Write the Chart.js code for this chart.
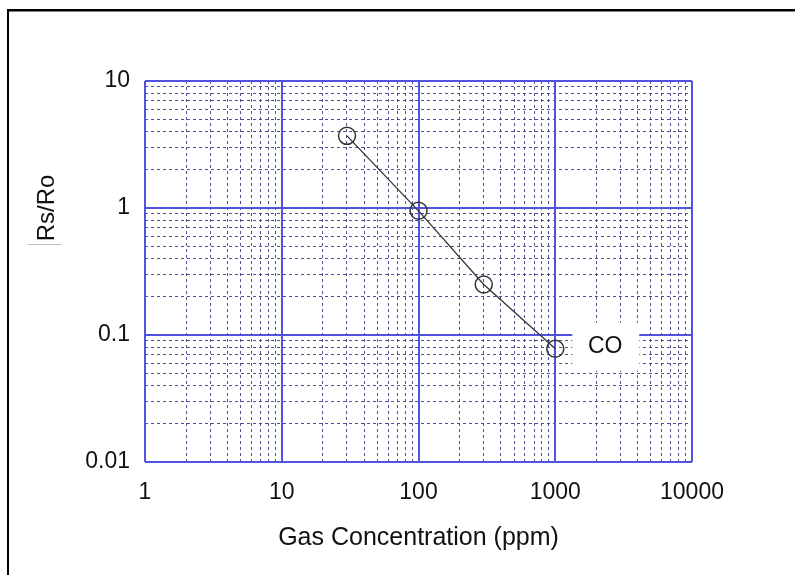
<!DOCTYPE html>
<html>
<head>
<meta charset="utf-8">
<script src="https://cdn.jsdelivr.net/npm/chart.js@4.4.1/dist/chart.umd.min.js"></script>
<style>
  html, body { margin: 0; padding: 0; background: #fff; }
  #wrap { width: 795px; height: 575px; }
</style>
</head>
<body>
<div id="wrap"><canvas id="chart1" width="795" height="575"></canvas></div>
<script>
// CO sensitivity curve (log-log)
const gasPpm = [30, 100, 300, 1000];
const rsRo = [3.7, 0.95, 0.25, 0.078];
const seriesName = 'CO';

const xTicks = [1, 10, 100, 1000, 10000];
const xTickLabels = ['1', '10', '100', '1000', '10000'];
const yTicks = [0.01, 0.1, 1, 10];
const yTickLabels = ['0.01', '0.1', '1', '10'];

// minor grid: 2..9 in every decade
function minorTicks(decades) {
    const out = [];
    decades.forEach(d => {
        for (let m = 2; m <= 9; m++) out.push(+(d * m).toPrecision(3));
    });
    return out;
}
const xMinor = minorTicks([1, 10, 100, 1000]);
const yMinor = minorTicks([0.01, 0.1, 1]);

const font = 'Liberation Sans, Arial, Helvetica, sans-serif';
const textColor = '#111';
const majorBlue = 'rgb(82, 82, 225)';
const minorBlue = 'rgba(50, 50, 125, 0.85)';

// frame, y title and the CO tag
const extras = {
    id: 'extras',
    beforeDatasetsDraw(chart) {
        const ctx = chart.ctx;
        const px = chart.scales.x.getPixelForValue(gasPpm[gasPpm.length - 1]);
        const py = chart.scales.y.getPixelForValue(rsRo[rsRo.length - 1]);
        ctx.save();
        ctx.fillStyle = '#fff';
        ctx.fillRect(px + 17, py - 26, 67, 48);
        ctx.fillStyle = textColor;
        ctx.font = '23px ' + font;
        ctx.textAlign = 'center';
        ctx.textBaseline = 'middle';
        ctx.fillText(seriesName, px + 50, py - 2);
        ctx.restore();
    },
    afterDraw(chart) {
        const ctx = chart.ctx;
        ctx.save();
        ctx.fillStyle = '#000';
        ctx.fillRect(7, 9, 788, 2.5);
        ctx.fillRect(7, 9, 2, 566);
        // y axis title
        ctx.translate(47, 208);
        ctx.rotate(-Math.PI / 2);
        ctx.fillStyle = textColor;
        ctx.font = '24px ' + font;
        ctx.textAlign = 'center';
        ctx.textBaseline = 'middle';
        ctx.fillText('Rs/Ro', 0, 0);
        ctx.restore();
        ctx.save();
        ctx.strokeStyle = 'rgba(150,150,150,0.6)';
        ctx.lineWidth = 1;
        ctx.beginPath();
        ctx.moveTo(28, 244.5);
        ctx.lineTo(62, 244.5);
        ctx.stroke();
        ctx.restore();
    }
};

const ctx1 = document.getElementById('chart1').getContext('2d');
new Chart(ctx1, {
    type: 'scatter',
    data: {
        datasets: [{
            label: seriesName,
            data: gasPpm.map((v, i) => ({ x: v, y: rsRo[i] })),
            showLine: true,
            borderColor: '#333',
            borderWidth: 1.3,
            pointRadius: 8.5,
            pointHoverRadius: 8.5,
            pointBorderWidth: 1.5,
            pointBorderColor: '#333',
            pointBackgroundColor: 'rgba(0,0,0,0)',
            xAxisID: 'x',
            yAxisID: 'y'
        }]
    },
    options: {
        responsive: false,
        animation: false,
        layout: { padding: { left: 0, top: 81, right: 103, bottom: 0 } },
        plugins: { legend: { display: false }, tooltip: { enabled: false } },
        scales: {
            x: {
                type: 'logarithmic',
                position: 'bottom',
                min: 1, max: 10000,
                afterBuildTicks: s => { s.ticks = xTicks.map(v => ({ value: v })); },
                afterFit: s => { s.height = 113; },
                ticks: {
                    autoSkip: false, maxRotation: 0,
                    padding: 17, color: textColor,
                    font: { family: font, size: 23 },
                    callback: (v, i) => xTickLabels[i]
                },
                grid: { color: majorBlue, lineWidth: 2, drawTicks: false },
                border: { display: false },
                title: {
                    display: true, text: 'Gas Concentration (ppm)',
                    color: textColor, font: { family: font, size: 25 },
                    padding: { top: 0, bottom: 22 }
                }
            },
            y: {
                type: 'logarithmic',
                position: 'left',
                min: 0.01, max: 10,
                afterBuildTicks: s => { s.ticks = yTicks.map(v => ({ value: v })); },
                afterFit: s => { s.width = 145; },
                ticks: {
                    autoSkip: false, padding: 15, color: textColor,
                    font: { family: font, size: 23 },
                    callback: (v, i) => yTickLabels[i]
                },
                grid: { color: majorBlue, lineWidth: 2, drawTicks: false },
                border: { display: false }
            },
            xMinor: {
                type: 'logarithmic',
                position: 'top',
                min: 1, max: 10000,
                afterBuildTicks: s => { s.ticks = xMinor.map(v => ({ value: v })); },
                afterFit: s => { s.height = 0; },
                ticks: { display: false, autoSkip: false },
                grid: { color: minorBlue, lineWidth: 1, drawTicks: false, z: -2 },
                border: { display: false, dash: [3, 3] }
            },
            yMinor: {
                type: 'logarithmic',
                position: 'right',
                min: 0.01, max: 10,
                afterBuildTicks: s => { s.ticks = yMinor.map(v => ({ value: v })); },
                afterFit: s => { s.width = 0; },
                ticks: { display: false, autoSkip: false },
                grid: { color: minorBlue, lineWidth: 1, drawTicks: false, z: -2 },
                border: { display: false, dash: [3, 3] }
            }
        }
    },
    plugins: [extras]
});
</script>
</body>
</html>
